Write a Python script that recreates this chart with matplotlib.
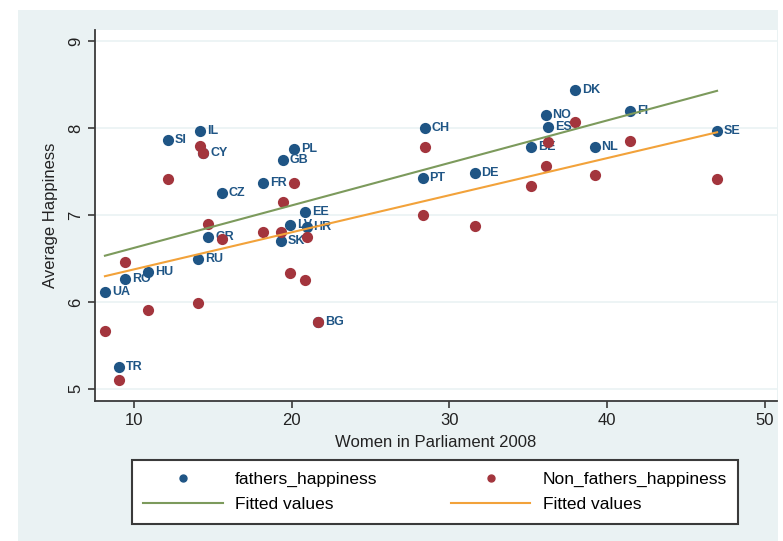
import matplotlib.pyplot as plt
import numpy as np
from matplotlib.patches import Rectangle
from matplotlib.lines import Line2D

plt.rcParams['font.family'] = ['Liberation Sans', 'DejaVu Sans']

# country codes, women in parliament 2008 (%), happiness of fathers / non-fathers
countries = ['UA', 'TR', 'RO', 'HU', 'SI', 'RU', 'IL', 'CY', 'GR', 'CZ',
             'FR', 'SK', 'GB', 'LV', 'PL', 'EE', 'HR', 'BG', 'PT', 'CH',
             'DE', 'BE', 'NO', 'ES', 'DK', 'NL', 'FI', 'SE']
women_parl = [8.16, 9.05, 9.43, 10.9, 12.15, 14.06, 14.2, 14.4, 14.7, 15.58,
              18.2, 19.3, 19.45, 19.9, 20.15, 20.85, 20.95, 21.7, 28.3, 28.45,
              31.6, 35.2, 36.1, 36.25, 37.97, 39.2, 41.45, 46.97]
fathers_happiness = [6.12, 5.25, 6.26, 6.34, 7.86, 6.5, 7.97, 7.71, 6.75, 7.25,
                     7.37, 6.70, 7.63, 6.88, 7.76, 7.03, 6.86, 5.77, 7.43, 8.0,
                     7.48, 7.78, 8.15, 8.01, 8.44, 7.78, 8.2, 7.97]
non_fathers_happiness = [5.66, 5.10, 6.46, 5.91, 7.41, 5.99, 7.8, 7.71, 6.9, 6.72,
                         6.8, 6.8, 7.15, 6.33, 7.37, 6.25, 6.75, 5.77, 7.0, 7.78,
                         6.87, 7.34, 7.56, 7.84, 8.07, 7.46, 7.85, 7.41]

blue = '#1F5585'
red = '#A3353D'
green = '#7C9A5C'
orange = '#F2A23A'

fig = plt.figure(figsize=(7.83, 5.41), dpi=100)
fig.patch.set_facecolor('white')
# stata graph region (behind everything)
fig.add_artist(Rectangle((18 / 783, 0), 760 / 783, 531 / 541, transform=fig.transFigure,
                         facecolor='#EAF2F3', edgecolor='none', zorder=-10))

ax = fig.add_axes([95 / 783, 140 / 541, 682 / 783, 371 / 541])
ax.set_facecolor('white')

x = np.array(women_parl)
yf = np.array(fathers_happiness)
yn = np.array(non_fathers_happiness)

ax.scatter(x, yf, s=65, color=blue, zorder=3, linewidths=0)
for c, xi, yi in zip(countries, x, yf):
    ax.annotate(c, (xi, yi), xytext=(5, 0), textcoords='offset points',
                va='center', ha='left', fontsize=9, fontweight='bold',
                color=blue, zorder=3)
ax.scatter(x, yn, s=65, color=red, zorder=4, linewidths=0)

xs = np.array([x.min(), x.max()])
bf = np.polyfit(x, yf, 1)
bn = np.polyfit(x, yn, 1)
ax.plot(xs, np.polyval(bf, xs), color=green, lw=1.5, zorder=5)
ax.plot(xs, np.polyval(bn, xs), color=orange, lw=1.5, zorder=5)

ax.set_xlim(7.53, 50.77)
ax.set_ylim(4.86, 9.13)
ax.set_xticks([10, 20, 30, 40, 50])
ax.set_yticks([5, 6, 7, 8, 9])
ax.grid(axis='y', color='#EAF2F3', lw=1.2, zorder=0)
ax.set_axisbelow(True)
for s in ['top', 'right']:
    ax.spines[s].set_visible(False)
for s in ['left', 'bottom']:
    ax.spines[s].set_color('#3A3A3A')
    ax.spines[s].set_linewidth(1.3)
ax.tick_params(direction='out', length=5, width=1.2, color='#3A3A3A',
               labelsize=12, labelcolor='#222222')
plt.setp(ax.get_yticklabels(), rotation=90, va='center')

ax.set_xlabel('Women in Parliament 2008', fontsize=12, color='#222222', labelpad=5)
ax.set_ylabel('Average Happiness', fontsize=12, color='#222222', labelpad=7)

handles = [
    Line2D([], [], marker='o', ls='none', color=blue, markersize=5),
    Line2D([], [], color=green, lw=1.5),
    Line2D([], [], marker='o', ls='none', color=red, markersize=5),
    Line2D([], [], color=orange, lw=1.5),
]
labels = ['fathers_happiness', 'Fitted values', 'Non_fathers_happiness', 'Fitted values']
leg = fig.legend(handles, labels, ncol=2, loc='center',
                 bbox_to_anchor=(435 / 783, 1 - 492 / 541),
                 fontsize=12.5, handlelength=4.6, handletextpad=0.7,
                 columnspacing=4.2, borderpad=0.65, labelspacing=0.6,
                 borderaxespad=0,
                 fancybox=False, edgecolor='#3A3A3A', framealpha=1)
leg.get_frame().set_linewidth(1.5)

fig.savefig('out.png', dpi=100)
